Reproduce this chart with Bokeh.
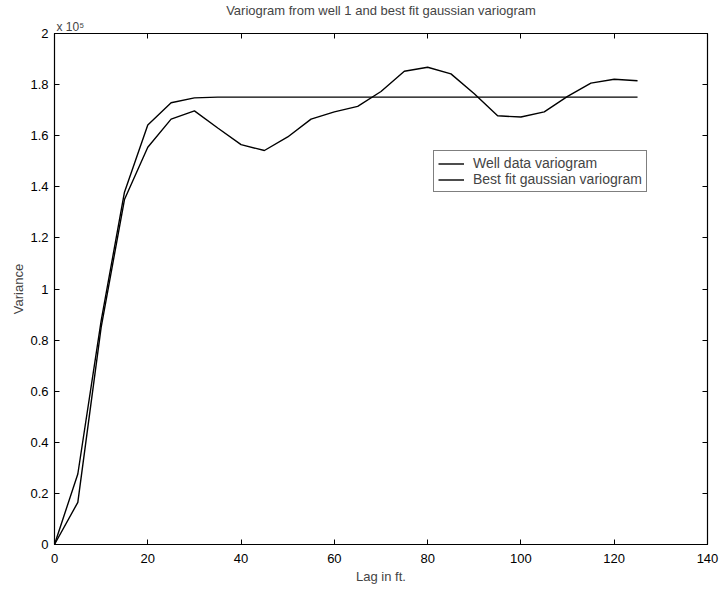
from bokeh.plotting import figure
from bokeh.models import (Range1d, LinearAxis, Legend, LegendItem, FixedTicker, Title,
                          CustomJSTickFormatter)
from bokeh.embed import file_html
from bokeh.resources import INLINE

# Lag (ft) and variance values in units of 1e5
lags = [0, 5, 10, 15, 20, 25, 30, 35, 40, 45, 50, 55, 60, 65, 70, 75, 80, 85, 90,
        95, 100, 105, 110, 115, 120, 125]
well_variogram = [0.0, 0.165, 0.85, 1.35, 1.555, 1.665, 1.697, 1.630, 1.565, 1.542, 1.595,
                  1.665, 1.693, 1.715, 1.773, 1.852, 1.868, 1.842, 1.764, 1.678, 1.673,
                  1.693, 1.754, 1.806, 1.821, 1.815]
gauss_fit = [0.0, 0.276, 0.875, 1.379, 1.642, 1.729, 1.748, 1.751, 1.751, 1.751, 1.751,
             1.751, 1.751, 1.751, 1.751, 1.751, 1.751, 1.751, 1.751, 1.751, 1.751,
             1.751, 1.751, 1.751, 1.751, 1.751]

x_ticks = [0, 20, 40, 60, 80, 100, 120, 140]
y_ticks = [0, 0.2, 0.4, 0.6, 0.8, 1.0, 1.2, 1.4, 1.6, 1.8, 2.0]
y_tick_labels = {0: "0", 0.2: "0.2", 0.4: "0.4", 0.6: "0.6", 0.8: "0.8", 1.0: "1",
                 1.2: "1.2", 1.4: "1.4", 1.6: "1.6", 1.8: "1.8", 2.0: "2"}

FONT = "Liberation Sans"
FS = "13px"

p = figure(width=721, height=589, output_backend="svg", toolbar_location=None,
           x_range=Range1d(0, 140), y_range=Range1d(0, 2),
           x_axis_label="Lag in ft.", y_axis_label="Variance", title=None)
p.min_border_left = 54
p.min_border_right = 14
p.min_border_top = 32
p.min_border_bottom = 45
p.background_fill_color = "white"
p.border_fill_color = "white"
p.outline_line_color = "black"
p.outline_line_width = 1.2
p.grid.visible = False

def style_axis(ax):
    ax.major_tick_in = 5
    ax.major_tick_out = 0
    ax.minor_tick_line_color = None
    ax.axis_line_color = "black"
    ax.major_tick_line_color = "black"
    ax.major_label_text_font = FONT
    ax.major_label_text_font_size = FS
    ax.major_label_text_color = "black"
    ax.axis_label_text_font = FONT
    ax.axis_label_text_font_size = FS
    ax.axis_label_text_font_style = "normal"

xa = p.xaxis[0]
xa.ticker = FixedTicker(ticks=x_ticks)
style_axis(xa)
xa.major_label_standoff = 9
xa.axis_label_standoff = 3

ya = p.yaxis[0]
ya.ticker = FixedTicker(ticks=y_ticks)
ya.major_label_overrides = y_tick_labels
style_axis(ya)
ya.major_label_standoff = 6
ya.axis_label_standoff = 1

blank = CustomJSTickFormatter(code="return ''")
top = LinearAxis(ticker=FixedTicker(ticks=x_ticks), formatter=blank)
style_axis(top)
top.major_label_standoff = 0
p.add_layout(top, "above")
right = LinearAxis(ticker=FixedTicker(ticks=y_ticks), formatter=blank)
style_axis(right)
right.major_label_standoff = 0
p.add_layout(right, "right")

p.add_layout(Title(text="x 10\u2075", text_font=FONT, text_font_size="12px",
                   text_font_style="normal", align="left", offset=2, standoff=0), "above")
p.add_layout(Title(text="Variogram from well 1 and best fit gaussian variogram",
                   text_font=FONT, text_font_size="13px", text_font_style="normal",
                   align="center", standoff=0), "above")

r1 = p.line(lags, well_variogram, line_color="black", line_width=1.4)
r2 = p.line(lags, gauss_fit, line_color="black", line_width=1.4)

legend = Legend(items=[LegendItem(label="Well data variogram", renderers=[r1]),
                       LegendItem(label="Best fit gaussian variogram", renderers=[r2])],
                location=(379, 352))
legend.label_text_font = FONT
legend.label_text_font_size = "14px"
legend.border_line_color = "black"
legend.border_line_width = 1
legend.background_fill_alpha = 1
legend.padding = 4
legend.spacing = 0
legend.margin = 0
legend.glyph_width = 26
legend.glyph_height = 15
legend.label_height = 15
legend.label_standoff = 9
p.add_layout(legend, "center")

open("out.html", "w").write(file_html(p, INLINE))
